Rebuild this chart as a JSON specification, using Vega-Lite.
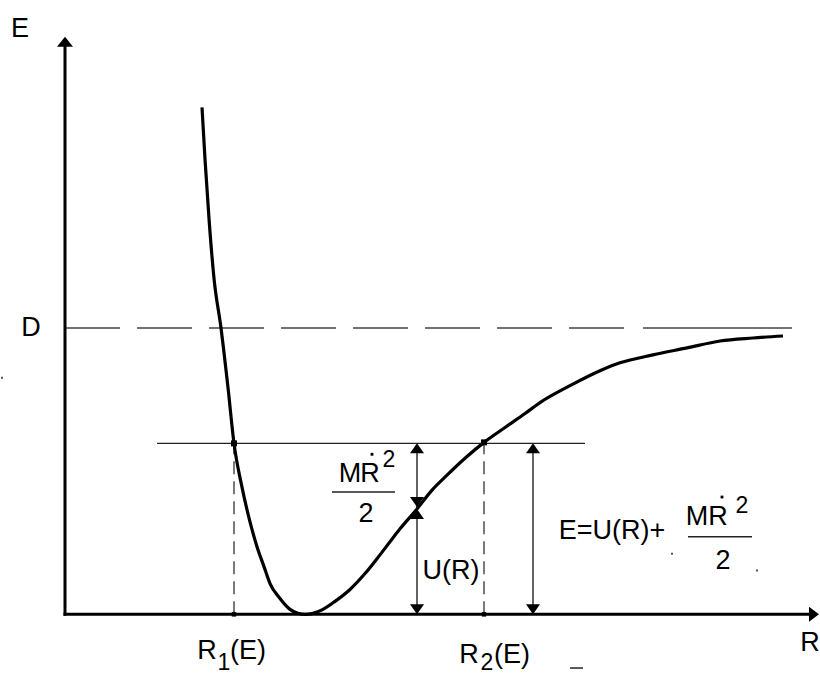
{
  "$schema": "https://vega.github.io/schema/vega-lite/v6.json",
  "width": 820,
  "height": 675,
  "autosize": {"type": "fit", "contains": "padding"},
  "padding": 0,
  "background": "white",
  "config": {"view": {"stroke": null}},
  "datasets": {
    "axes": [{"R": 0, "E": -1.5, "R2": 0, "E2": 572}, {"R": -1.5, "E": 0, "R2": 746, "E2": 0}],
    "dline": [{"R": 0, "E": 288, "R2": 576, "E2": 288}],
    "dlineEnd": [{"R": 578, "E": 288, "R2": 727, "E2": 288}],
    "eline": [{"R": 92, "E": 172, "R2": 520, "E2": 172}],
    "shafts": [{"R": 352, "E": 0, "R2": 352, "E2": 170}, {"R": 468, "E": 0, "R2": 468, "E2": 170}],
    "drops": [{"R": 169, "E": 0, "R2": 169, "E2": 172}, {"R": 419, "E": 0, "R2": 419, "E2": 173}],
    "bars": [{"R": 267, "E": 123, "R2": 330, "E2": 123}, {"R": 623, "E": 78, "R2": 687, "E2": 78}, {"R": 505, "E": -54, "R2": 518, "E2": -54}],
    "heads": [
      {"R": 0, "E": 576, "dir": "axisup"},
      {"R": 749, "E": 0, "dir": "axisright"},
      {"R": 352, "E": 167, "dir": "up"},
      {"R": 352, "E": 113, "dir": "down"},
      {"R": 352, "E": 101, "dir": "up"},
      {"R": 352, "E": 5, "dir": "down"},
      {"R": 468, "E": 167, "dir": "up"},
      {"R": 468, "E": 5, "dir": "down"}
    ],
    "curve": [
      {"R": 137, "E": 510}, {"R": 140, "E": 458}, {"R": 144, "E": 398}, {"R": 149, "E": 338},
      {"R": 156, "E": 288}, {"R": 163, "E": 228}, {"R": 169, "E": 172}, {"R": 177, "E": 128},
      {"R": 185, "E": 93}, {"R": 192, "E": 68}, {"R": 199, "E": 48}, {"R": 205, "E": 31},
      {"R": 215, "E": 16}, {"R": 225, "E": 5}, {"R": 233, "E": 1}, {"R": 240, "E": 0},
      {"R": 248, "E": 1}, {"R": 258, "E": 5}, {"R": 270, "E": 13}, {"R": 285, "E": 25},
      {"R": 300, "E": 41}, {"R": 312, "E": 56}, {"R": 325, "E": 73}, {"R": 335, "E": 86},
      {"R": 352, "E": 106}, {"R": 367, "E": 125}, {"R": 382, "E": 140}, {"R": 400, "E": 157},
      {"R": 419, "E": 173}, {"R": 440, "E": 188}, {"R": 460, "E": 202}, {"R": 475, "E": 213},
      {"R": 505, "E": 230}, {"R": 535, "E": 245}, {"R": 555, "E": 253}, {"R": 588, "E": 261},
      {"R": 622, "E": 268}, {"R": 655, "E": 275}, {"R": 688, "E": 278}, {"R": 718, "E": 280}
    ],
    "dots": [{"R": 169, "E": 172}, {"R": 419, "E": 173}],
    "footdots": [{"R": 169, "E": 0}, {"R": 419, "E": 0}],
    "overdots": [{"R": 307, "E": 161}, {"R": 657, "E": 118}],
    "specks": [{"R": 607, "E": 61}, {"R": 692, "E": 44}, {"R": -63, "E": 238}],
    "labels": [
      {"t": "E", "R": -45, "E": 581},
      {"t": "D", "R": -34, "E": 280},
      {"t": "R", "R": 745, "E": -37},
      {"t": "R", "R": 142, "E": -45}, {"t": "(E)", "R": 183, "E": -45},
      {"t": "R", "R": 404, "E": -49}, {"t": "(E)", "R": 447, "E": -49},
      {"t": "U(R)", "R": 386, "E": 36},
      {"t": "M", "R": 285, "E": 133}, {"t": "R", "R": 305, "E": 133}, {"t": "2", "R": 301, "E": 93},
      {"t": "E=U(R)+", "R": 547, "E": 76},
      {"t": "M", "R": 632, "E": 90}, {"t": "R", "R": 653, "E": 90}, {"t": "2", "R": 658, "E": 46}
    ],
    "scripts": [
      {"t": "1", "R": 159, "E": -56},
      {"t": "2", "R": 422, "E": -56},
      {"t": "2", "R": 324, "E": 148},
      {"t": "2", "R": 677, "E": 102}
    ]
  },
  "encoding": {
    "x": {"field": "R", "type": "quantitative", "scale": {"domain": [-65, 755], "nice": false, "zero": false}, "axis": null},
    "y": {"field": "E", "type": "quantitative", "scale": {"domain": [-57, 618], "nice": false, "zero": false}, "axis": null}
  },
  "layer": [
    {"data": {"name": "dline"}, "mark": {"type": "rule", "color": "#444444", "strokeWidth": 1.6, "strokeDash": [55, 17]}, "encoding": {"x2": {"field": "R2"}, "y2": {"field": "E2"}}},
    {"data": {"name": "dlineEnd"}, "mark": {"type": "rule", "color": "#444444", "strokeWidth": 1.6}, "encoding": {"x2": {"field": "R2"}, "y2": {"field": "E2"}}},
    {"data": {"name": "drops"}, "mark": {"type": "rule", "color": "#333333", "strokeWidth": 1.3, "strokeDash": [13, 7]}, "encoding": {"x2": {"field": "R2"}, "y2": {"field": "E2"}}},
    {"data": {"name": "eline"}, "mark": {"type": "rule", "color": "#222222", "strokeWidth": 1.4}, "encoding": {"x2": {"field": "R2"}, "y2": {"field": "E2"}}},
    {"data": {"name": "shafts"}, "mark": {"type": "rule", "color": "#222222", "strokeWidth": 1.4}, "encoding": {"x2": {"field": "R2"}, "y2": {"field": "E2"}}},
    {"data": {"name": "bars"}, "mark": {"type": "rule", "color": "#222222", "strokeWidth": 1.5}, "encoding": {"x2": {"field": "R2"}, "y2": {"field": "E2"}}},
    {"data": {"name": "axes"}, "mark": {"type": "rule", "color": "black", "strokeWidth": 3}, "encoding": {"x2": {"field": "R2"}, "y2": {"field": "E2"}}},
    {"data": {"name": "curve"}, "mark": {"type": "line", "color": "black", "strokeWidth": 3.2, "interpolate": "monotone"}, "encoding": {}},
    {"data": {"name": "heads"}, "mark": {"type": "point", "filled": true, "color": "black", "opacity": 1, "size": 400, "strokeWidth": 0},
      "encoding": {"shape": {"field": "dir", "type": "nominal", "legend": null,
        "scale": {"domain": ["axisup", "axisright", "up", "down"],
          "range": ["M0,-0.5L0.8,0.5L-0.8,0.5Z", "M0.5,0L-0.5,-0.75L-0.5,0.75Z", "M0,-0.5L0.7,0.5L-0.7,0.5Z", "M0,0.5L0.7,-0.5L-0.7,-0.5Z"]}}}},
    {"data": {"name": "dots"}, "mark": {"type": "square", "filled": true, "color": "black", "opacity": 1, "size": 36}, "encoding": {}},
    {"data": {"name": "footdots"}, "mark": {"type": "square", "filled": true, "color": "black", "opacity": 1, "size": 20}, "encoding": {}},
    {"data": {"name": "overdots"}, "mark": {"type": "square", "filled": true, "color": "black", "opacity": 1, "size": 8}, "encoding": {}},
    {"data": {"name": "specks"}, "mark": {"type": "square", "filled": true, "color": "#555555", "opacity": 1, "size": 4}, "encoding": {}},
    {"data": {"name": "labels"}, "mark": {"type": "text", "font": "Liberation Sans", "fontSize": 27, "color": "black", "align": "center", "baseline": "alphabetic"},
      "encoding": {"text": {"field": "t", "type": "nominal"}}},
    {"data": {"name": "scripts"}, "mark": {"type": "text", "font": "Liberation Sans", "fontSize": 23, "color": "black", "align": "center", "baseline": "alphabetic"},
      "encoding": {"text": {"field": "t", "type": "nominal"}}}
  ]
}
